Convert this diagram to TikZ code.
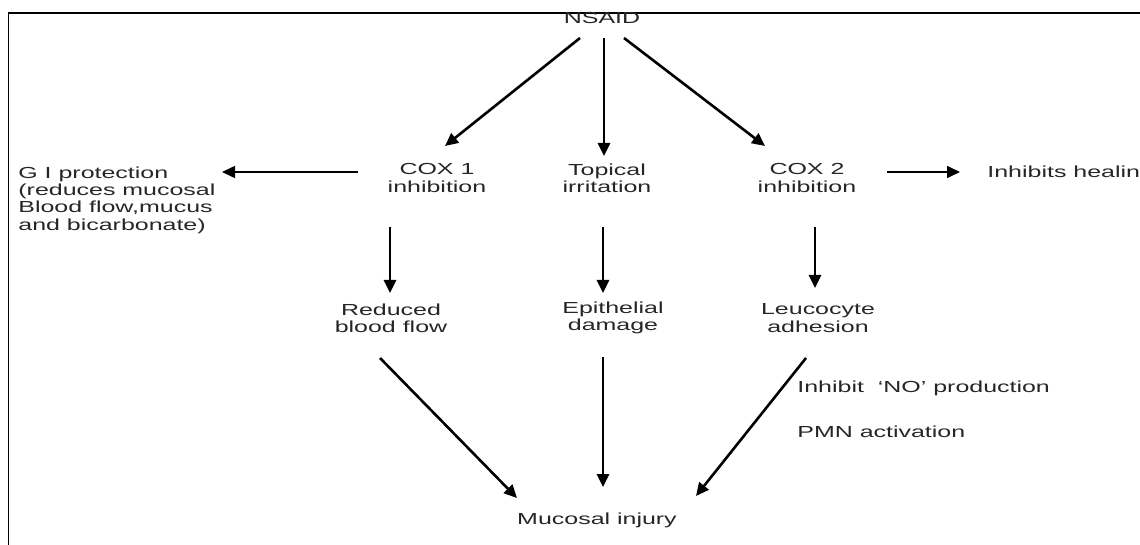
\documentclass[tikz,border=0pt]{standalone}
\usepackage{fontspec}
\newfontfamily\diagfont{Liberation Sans}[FakeStretch=1.56]
\usetikzlibrary{arrows.meta}
\tikzset{>={Triangle[width=6pt,length=6.5pt]}}
\tikzset{lbl/.style={font=\diagfont\fontsize{8}{8.7}\selectfont,text=black!85,inner sep=0pt,align=center}}
\tikzset{arr/.style={->,line width=1.3pt}}
\tikzset{thinarr/.style={->,line width=0.8pt}}

\begin{document}
\begin{tikzpicture}[x=0.5pt,y=-0.5pt]
		\useasboundingbox (0,0) rectangle (1140,545);

		% frame
		\draw[line width=0.8pt] (1140,13) -- (8.5,13) -- (8.5,545);

		% labels
		\node[lbl] (nsaid) at (602,18) {NSAID};
		\node[lbl] (cox1) at (437,178) {COX 1\\inhibition};
		\node[lbl] (topical) at (607,178) {Topical\\irritation};
		\node[lbl] (cox2) at (807,178) {COX 2\\inhibition};
		\node[lbl,align=left,anchor=west] (gi) at (18,200) {G I protection\\(reduces mucosal\\Blood flow,mucus\\and bicarbonate)};
		\node[lbl,anchor=west] (heal) at (987,172) {Inhibits healin};
		\node[lbl] (blood) at (391,318) {Reduced\\blood flow};
		\node[lbl] (epith) at (613,318) {Epithelial\\damage};
		\node[lbl] (leuco) at (818,318) {Leucocyte\\adhesion};
		\node[lbl,anchor=west] (noprod) at (797,388) {Inhibit\ \ ‘NO’ production};
		\node[lbl,anchor=west] (pmn) at (797,432) {PMN activation};
		\node[lbl] (injury) at (597,520) {Mucosal injury};

		% from NSAID
		\draw[arr] ([shift={(-22,20)}]nsaid.center) -- ([shift={(8,-32)}]cox1.center);
		\draw[arr] ([shift={(2,20)}]nsaid.center) -- ([shift={(-3,-22)}]topical.center);
		\draw[arr] ([shift={(22,20)}]nsaid.center) -- ([shift={(-42,-32)}]cox2.center);

		% side arrows
		\draw[thinarr] ([shift={(-79,-6)}]cox1.center) -- ([shift={(204,-28)}]gi.west);
		\draw[thinarr] ([shift={(80,-6)}]cox2.center) -- ([shift={(-27,0)}]heal.west);

		% second row
		\draw[arr] ([shift={(-47,49)}]cox1.center) -- ([shift={(-1,-25)}]blood.center);
		\draw[arr] ([shift={(-4,49)}]topical.center) -- ([shift={(-10,-25)}]epith.center);
		\draw[arr] ([shift={(8,49)}]cox2.center) -- ([shift={(-3,-30)}]leuco.center);

		% to mucosal injury
		\draw[arr] ([shift={(-11,40)}]blood.center) -- ([shift={(-80,-22)}]injury.center);
		\draw[arr] ([shift={(-10,39)}]epith.center) -- ([shift={(6,-33)}]injury.center);
		\draw[arr] ([shift={(-12,40)}]leuco.center) -- ([shift={(99,-24)}]injury.center);

	\end{tikzpicture}
\end{document}
